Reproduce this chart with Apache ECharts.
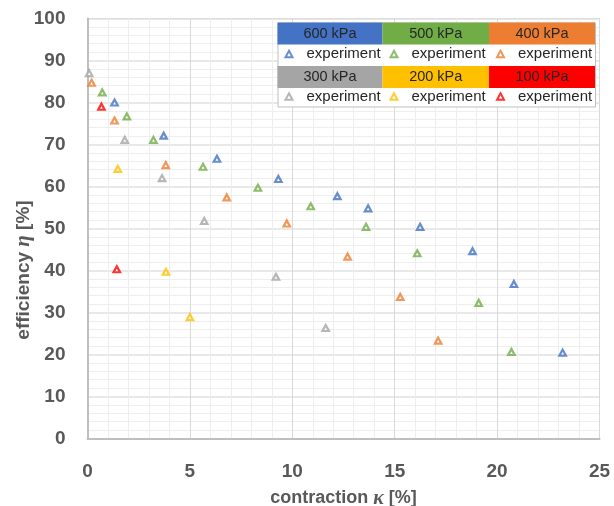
<!DOCTYPE html>
<html>
<head>
<meta charset="utf-8">
<script src="https://cdn.jsdelivr.net/npm/echarts@6/dist/echarts.min.js"></script>
<style>
  html, body { margin: 0; padding: 0; background: #fff; }
  #chart { width: 614px; height: 506px; }
</style>
</head>
<body>
<div id="chart"></div>
<script>
// Efficiency vs. contraction, one hollow-triangle series per supply pressure
const pressureLabels = ['600 kPa', '500 kPa', '400 kPa', '300 kPa', '200 kPa', '100 kPa'];
const pressureColors = ['#4472C4', '#70AD47', '#ED7D31', '#A5A5A5', '#FFC000', '#FF0000'];

const kappa600 = [1.32, 3.72, 6.32, 9.32, 12.2, 13.7, 16.24, 18.8, 20.82, 23.2];
const eta600   = [80.0, 72.1, 66.6, 61.8, 57.7, 54.8, 50.4, 44.6, 36.8, 20.45];

const kappa500 = [0.72, 1.92, 3.22, 5.64, 8.32, 10.9, 13.6, 16.1, 19.1, 20.7];
const eta500   = [82.4, 76.7, 71.1, 64.7, 59.7, 55.3, 50.4, 44.1, 32.3, 20.6];

const kappa400 = [0.2, 1.32, 3.82, 6.8, 9.73, 12.7, 15.27, 17.12];
const eta400   = [84.7, 75.7, 65.1, 57.4, 51.2, 43.3, 33.7, 23.3];

const kappa300 = [0.08, 1.82, 3.64, 5.7, 9.2, 11.63];
const eta300   = [87.0, 71.1, 62.0, 51.8, 38.5, 26.3];

const kappa200 = [1.48, 3.83, 5.0];
const eta200   = [64.2, 39.7, 28.9];

const kappa100 = [0.68, 1.43];
const eta100   = [79.0, 40.3];

const xTicks = [0, 5, 10, 15, 20, 25];
const yTicks = [0, 10, 20, 30, 40, 50, 60, 70, 80, 90, 100];

const kappaSets = [kappa600, kappa500, kappa400, kappa300, kappa200, kappa100];
const etaSets = [eta600, eta500, eta400, eta300, eta200, eta100];

const labelColor = '#595959';
const labelFont = 'Liberation Sans';

const pairs = (xs, ys) => xs.map((x, i) => [x, ys[i]]);

const series = pressureLabels.map((name, i) => ({
  name: name,
  type: 'scatter',
  symbol: 'triangle',
  symbolSize: [6.5, 6],
  itemStyle: { color: '#ffffff', borderColor: pressureColors[i], borderWidth: 2.2 },
  data: pairs(kappaSets[i], etaSets[i]),
  z: 5
}));

// legend table: coloured header cells over "experiment" entries
const legendLeft = 277.5, legendTop = 22.5;
const cellW = [105, 106.5, 106];
const headerH = 22, rowH = 21.5;
const graphics = [];
const totalW = cellW[0] + cellW[1] + cellW[2];
const totalH = 2 * headerH + 2 * rowH - 3;
graphics.push({
  type: 'rect', left: legendLeft, top: legendTop, z: 10,
  shape: { width: totalW, height: totalH },
  style: { fill: '#ffffff', stroke: '#bfbfbf', lineWidth: 1 }
});
const legends = [];
pressureLabels.forEach((name, i) => {
  const col = i % 3, row = Math.floor(i / 3);
  let x = legendLeft;
  for (let c = 0; c < col; c++) x += cellW[c];
  const y = legendTop + row * (headerH + rowH);
  graphics.push({
    type: 'rect', left: x, top: y, z: 11,
    shape: { width: cellW[col], height: headerH },
    style: { fill: pressureColors[i] }
  });
  graphics.push({
    type: 'text', z: 12,
    x: x + cellW[col] / 2, y: y + headerH / 2,
    style: {
      text: name, fill: '#262626', font: '14.5px "Liberation Sans"',
      textAlign: 'center', textVerticalAlign: 'middle'
    }
  });
  legends.push({
    data: [name],
    left: x + 7, top: y + headerH + (row === 1 ? 1 : 2),
    itemWidth: 7, itemHeight: 6.5, padding: 0, z: 12,
    icon: 'triangle',
    selectedMode: false,
    formatter: () => 'experiment',
    textStyle: { color: '#262626', fontSize: 15, fontFamily: labelFont, padding: [0, 0, 0, 9] }
  });
});

const chart = echarts.init(document.getElementById('chart'), null, { renderer: 'canvas' });
chart.setOption({
  backgroundColor: '#ffffff',
  animation: false,
  grid: {
    left: 87.5, top: 18.5, right: 14.5, bottom: 67.5,
    containLabel: false, outerBoundsMode: 'none',
    show: true, borderColor: '#d0d0d0', borderWidth: 1
  },
  xAxis: {
    type: 'value', min: xTicks[0], max: xTicks[xTicks.length - 1], interval: 5,
    name: 'contraction {g|κ} [%]', nameLocation: 'middle', nameGap: 50,
    nameMoveOverlap: false,
    nameTextStyle: {
      color: labelColor, fontSize: 18, fontWeight: 'bold', fontFamily: labelFont,
      rich: { g: { fontSize: 20, fontStyle: 'italic', fontWeight: 'bold', fontFamily: 'Liberation Serif', color: labelColor } }
    },
    axisLine: { show: true, lineStyle: { color: '#bfbfbf', width: 2 } },
    axisTick: { show: false },
    axisLabel: { margin: 24, color: labelColor, fontSize: 19, fontWeight: 'bold', fontFamily: labelFont },
    splitLine: { show: true, lineStyle: { color: '#d9d9d9', width: 1 } },
    minorTick: { show: false, splitNumber: 5 },
    minorSplitLine: { show: true, lineStyle: { color: '#eeeeee', width: 1 } }
  },
  yAxis: {
    type: 'value', min: yTicks[0], max: yTicks[yTicks.length - 1], interval: 10,
    name: 'efficiency {g|η} [%]', nameLocation: 'middle', nameGap: 53.5,
    nameMoveOverlap: false,
    nameTextStyle: {
      color: labelColor, fontSize: 19, fontWeight: 'bold', fontFamily: labelFont,
      padding: [0, 83, 0, 0],
      rich: { g: { fontSize: 21, fontStyle: 'italic', fontWeight: 'bold', fontFamily: 'Liberation Serif', color: labelColor } }
    },
    axisLine: { show: true, lineStyle: { color: '#bfbfbf', width: 2 } },
    axisTick: { show: false },
    axisLabel: { margin: 22, color: labelColor, fontSize: 19, fontWeight: 'bold', fontFamily: labelFont },
    splitLine: { show: true, lineStyle: { color: '#e0e0e0', width: 1.5 } },
    minorTick: { show: false, splitNumber: 5 },
    minorSplitLine: { show: true, lineStyle: { color: '#eeeeee', width: 1 } }
  },
  legend: legends,
  graphic: graphics,
  series: series
});
</script>
</body>
</html>
